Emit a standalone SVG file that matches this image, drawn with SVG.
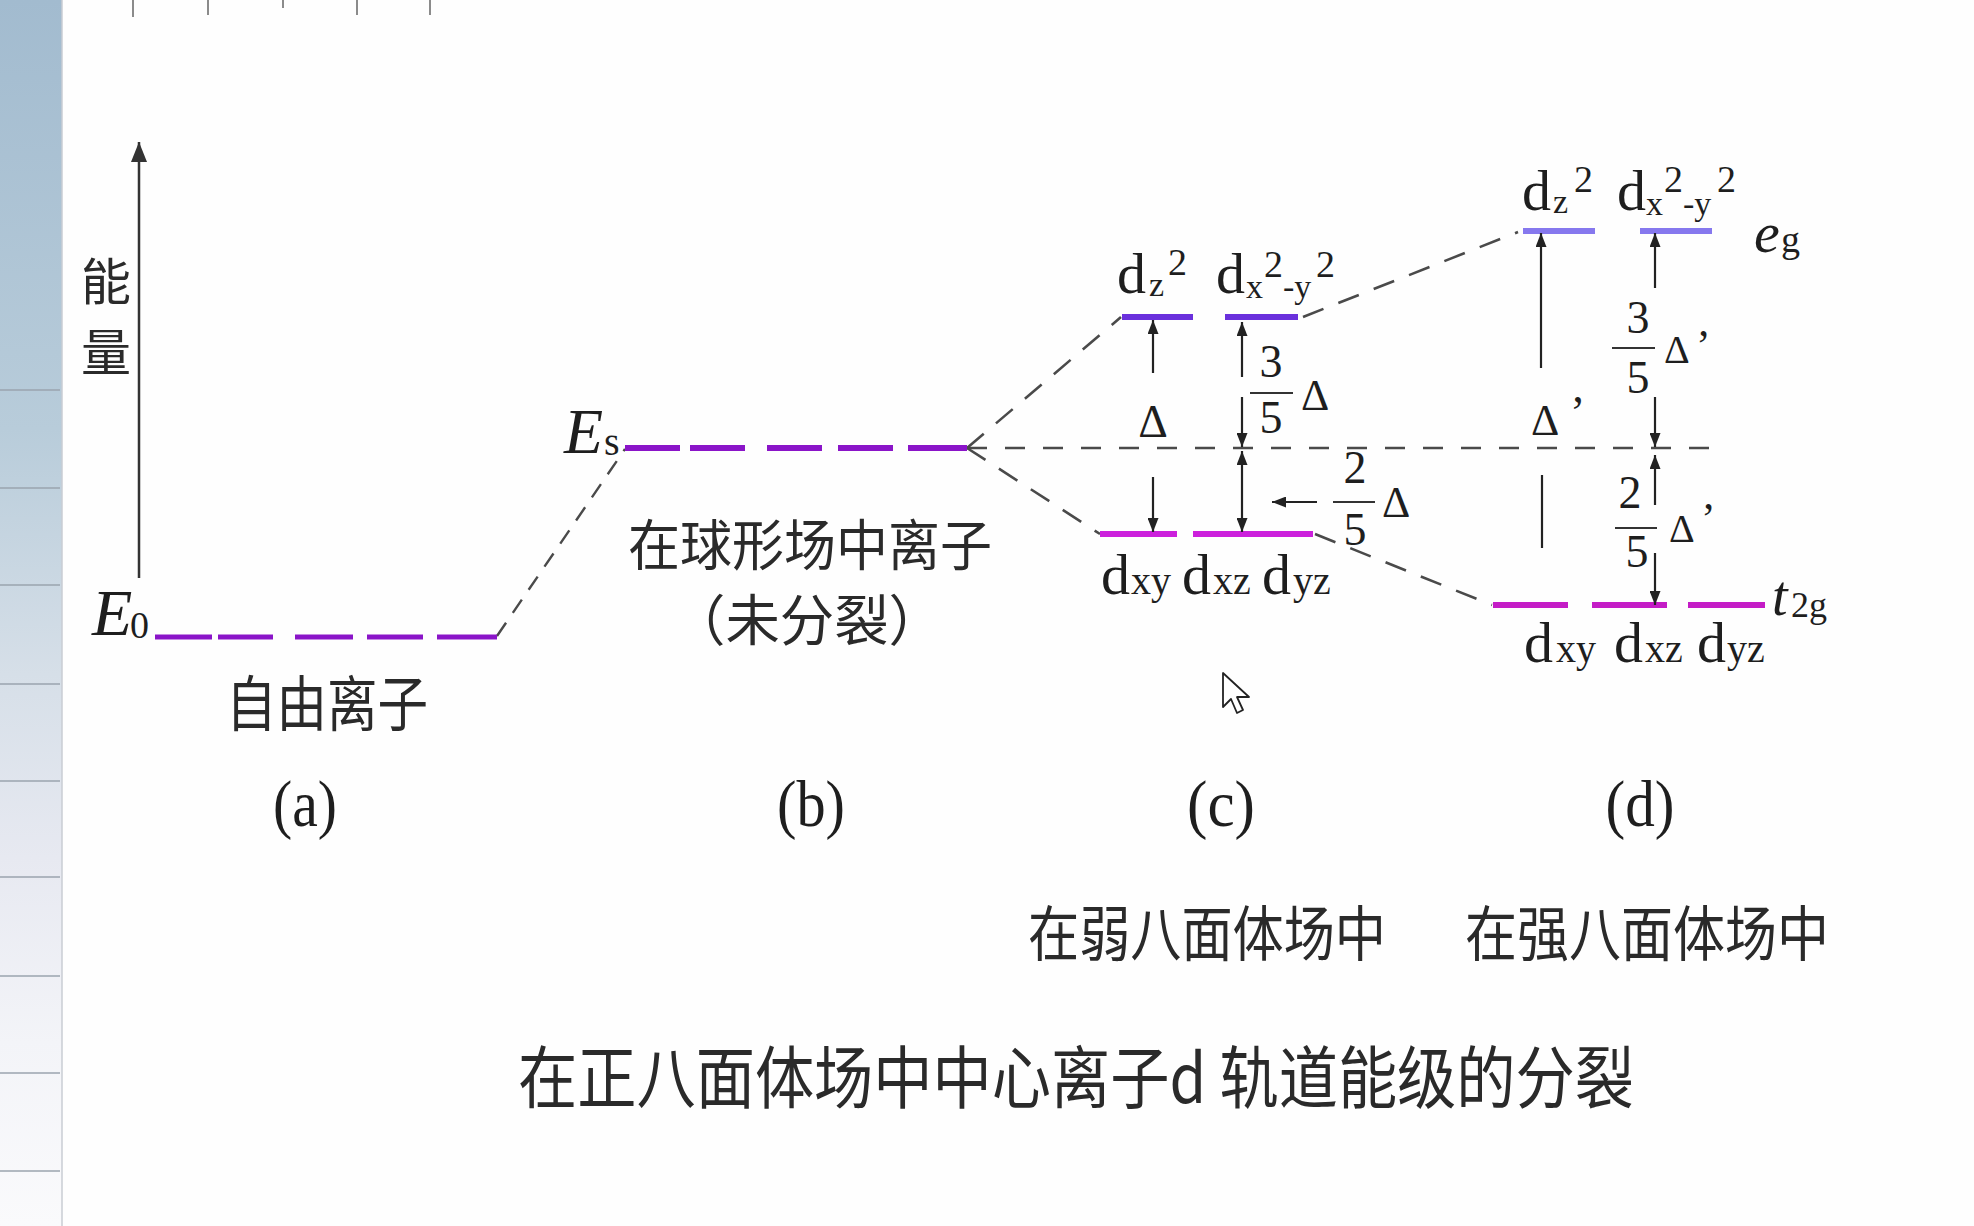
<svg xmlns="http://www.w3.org/2000/svg" width="1974" height="1226" viewBox="0 0 1974 1226">
<defs>
  <linearGradient id="panelGrad" x1="0" y1="0" x2="0" y2="1">
    <stop offset="0" stop-color="#a2bbcf"/>
    <stop offset="0.35" stop-color="#b8ccda"/>
    <stop offset="0.55" stop-color="#d6dfe8"/>
    <stop offset="0.7" stop-color="#e7e9f1"/>
    <stop offset="0.85" stop-color="#f3f4f8"/>
    <stop offset="1" stop-color="#fafafc"/>
  </linearGradient>
  <marker id="ah" markerUnits="userSpaceOnUse" markerWidth="14" markerHeight="11" refX="14" refY="5.5" orient="auto-start-reverse">
    <path d="M0,0 L14,5.5 L0,11 Z" fill="#222"/>
  </marker>
  <marker id="ahBig" markerUnits="userSpaceOnUse" markerWidth="20" markerHeight="16" refX="20" refY="8" orient="auto">
    <path d="M0,0 L20,8 L0,16 Z" fill="#333"/>
  </marker>
  <style>
    .lv { stroke-width:6; fill:none }
    .purple { stroke:#8a14c8 }
    .blue { stroke:#6a30dc }
    .mag { stroke:#cc20dc }
    .peri { stroke:#8678ee }
    .mag2 { stroke:#c41cc6 }
    .dash { stroke:#4a4a4a; stroke-width:2.6; fill:none; stroke-dasharray:22 16 }
    .arr { stroke:#222; stroke-width:2.2; fill:none }
    .serif { font-family:"Liberation Serif","Times New Roman",serif; fill:#1e1e1e }
    .it { font-style:italic }
    .cjk { font-family:"Noto Sans CJK SC","Noto Sans",sans-serif; fill:#2a2a2a }
    .bar { stroke:#333; stroke-width:2 }
    .grid { stroke:#9aa4ae; stroke-width:1.5 }
    .tick { stroke:#666; stroke-width:1.5 }
  </style>
</defs>

<rect x="0" y="0" width="1974" height="1226" fill="#fefefe"/>

<g id="side-panel">
  <rect x="0" y="0" width="62" height="1226" fill="url(#panelGrad)"/>
  <line x1="62" y1="0" x2="62" y2="1226" stroke="#c9cdd3" stroke-width="1.5"/>
  <path class="grid" d="M0,390 H60 M0,488 H60 M0,585 H60 M0,684 H60 M0,781 H60 M0,877 H60 M0,976 H60 M0,1073 H60 M0,1171 H60"/>
</g>

<g id="ruler-ticks">
  <path class="tick" d="M133,0 V17 M208,0 V15 M283,0 V8 M357,0 V15 M430,0 V15"/>
</g>

<g id="energy-axis">
  <line x1="139" y1="578" x2="139" y2="142" stroke="#333" stroke-width="2.5" marker-end="url(#ahBig)"/>
  <text class="cjk" font-size="50" x="106" y="300" text-anchor="middle">能</text>
  <text class="cjk" font-size="50" x="106" y="371" text-anchor="middle">量</text>
</g>

<g id="connectors">
  <path class="dash" style="stroke-dasharray:16 12;stroke-width:2.4" d="M497,636 L625,449"/>
  <path class="dash" d="M967,448 L1121,317"/>
  <path class="dash" style="stroke-dasharray:20 18" d="M967,448 L1718,448"/>
  <path class="dash" d="M967,448 L1100,534"/>
  <path class="dash" d="M1303,317 L1518,232"/>
  <path class="dash" d="M1315,534 L1492,605"/>
</g>

<g id="level-a-free-ion">
  <path class="lv purple" style="stroke-width:5" d="M155,637 H212 M218,637 H273 M295,637 H353 M367,637 H423 M437,637 H497"/>
  <text class="serif it" font-size="66" x="92" y="635">E</text>
  <text class="serif" font-size="38" x="130" y="638">0</text>
  <text class="cjk" font-size="60" x="226" y="726" textLength="202" lengthAdjust="spacingAndGlyphs">自由离子</text>
  <text class="serif" font-size="66" x="305" y="826" text-anchor="middle" textLength="64" lengthAdjust="spacingAndGlyphs">(a)</text>
</g>

<g id="level-b-spherical">
  <path class="lv purple" d="M625,448 H680 M690,448 H745 M767,448 H822 M838,448 H893 M908,448 H967"/>
  <text class="serif it" font-size="64" x="564" y="453">E</text>
  <text class="serif" font-size="40" x="604" y="455" fill="#5a6450">s</text>
  <text class="cjk" font-size="55" x="628" y="565" textLength="364" lengthAdjust="spacingAndGlyphs">在球形场中离子</text>
  <text class="cjk" font-size="55" x="671" y="640" textLength="272" lengthAdjust="spacingAndGlyphs">（未分裂）</text>
  <text class="serif" font-size="66" x="811" y="826" text-anchor="middle" textLength="68" lengthAdjust="spacingAndGlyphs">(b)</text>
</g>

<g id="level-c-weak">
  <path class="lv blue" d="M1122,317 H1193 M1225,317 H1298"/>
  <path class="lv mag" d="M1100,534 H1177 M1193,534 H1313"/>
  <text class="serif" font-size="58" x="1117" y="293">d</text>
  <text class="serif" font-size="34" x="1149" y="296">z</text>
  <text class="serif" font-size="38" x="1168" y="275">2</text>
  <text class="serif" font-size="58" x="1216" y="293">d</text>
  <text class="serif" font-size="34" x="1246" y="298">x</text>
  <text class="serif" font-size="38" x="1264" y="277">2</text>
  <text class="serif" font-size="34" x="1283" y="298">-y</text>
  <text class="serif" font-size="38" x="1316" y="277">2</text>
  <text class="serif" font-size="58" x="1101" y="594">d</text>
  <text class="serif" font-size="40" x="1131" y="594">xy</text>
  <text class="serif" font-size="58" x="1182" y="594">d</text>
  <text class="serif" font-size="40" x="1213" y="594">xz</text>
  <text class="serif" font-size="58" x="1262" y="594">d</text>
  <text class="serif" font-size="40" x="1293" y="594">yz</text>
  <text class="serif" font-size="66" x="1221" y="826" text-anchor="middle" textLength="68" lengthAdjust="spacingAndGlyphs">(c)</text>
  <text class="cjk" font-size="60" x="1028" y="956" textLength="358" lengthAdjust="spacingAndGlyphs">在弱八面体场中</text>
</g>

<g id="arrows-c">
  <line class="arr" x1="1153" y1="373" x2="1153" y2="320" marker-end="url(#ah)"/>
  <line class="arr" x1="1153" y1="477" x2="1153" y2="532" marker-end="url(#ah)"/>
  <text class="serif" font-size="46" x="1153" y="437" text-anchor="middle">Δ</text>
  <line class="arr" x1="1242" y1="377" x2="1242" y2="322" marker-end="url(#ah)"/>
  <line class="arr" x1="1242" y1="397" x2="1242" y2="447" marker-end="url(#ah)"/>
  <line class="arr" x1="1242" y1="451" x2="1242" y2="532" marker-start="url(#ah)" marker-end="url(#ah)"/>
  <line class="arr" x1="1317" y1="502" x2="1272" y2="502" marker-end="url(#ah)"/>
  <text class="serif" font-size="46" x="1271" y="377" text-anchor="middle">3</text>
  <line class="bar" x1="1250" y1="393" x2="1293" y2="393"/>
  <text class="serif" font-size="46" x="1271" y="433" text-anchor="middle">5</text>
  <text class="serif" font-size="44" x="1301" y="410">Δ</text>
  <text class="serif" font-size="46" x="1355" y="483" text-anchor="middle">2</text>
  <line class="bar" x1="1333" y1="502" x2="1375" y2="502"/>
  <text class="serif" font-size="46" x="1355" y="545" text-anchor="middle">5</text>
  <text class="serif" font-size="44" x="1382" y="517">Δ</text>
</g>

<g id="level-d-strong">
  <path class="lv peri" d="M1523,231 H1595 M1640,231 H1712"/>
  <path class="lv mag2" d="M1493,605 H1568 M1592,605 H1667 M1688,605 H1765"/>
  <text class="serif" font-size="58" x="1522" y="210">d</text>
  <text class="serif" font-size="34" x="1553" y="213">z</text>
  <text class="serif" font-size="38" x="1574" y="192">2</text>
  <text class="serif" font-size="58" x="1617" y="210">d</text>
  <text class="serif" font-size="34" x="1646" y="215">x</text>
  <text class="serif" font-size="38" x="1664" y="192">2</text>
  <text class="serif" font-size="34" x="1683" y="215">-y</text>
  <text class="serif" font-size="38" x="1717" y="192">2</text>
  <text class="serif it" font-size="58" x="1754" y="252">e</text>
  <text class="serif" font-size="38" x="1781" y="252">g</text>
  <text class="serif" font-size="58" x="1524" y="662">d</text>
  <text class="serif" font-size="40" x="1556" y="662">xy</text>
  <text class="serif" font-size="58" x="1614" y="662">d</text>
  <text class="serif" font-size="40" x="1645" y="662">xz</text>
  <text class="serif" font-size="58" x="1697" y="662">d</text>
  <text class="serif" font-size="40" x="1727" y="662">yz</text>
  <text class="serif it" font-size="56" x="1772" y="615">t</text>
  <text class="serif" font-size="36" x="1791" y="617">2g</text>
  <text class="serif" font-size="66" x="1640" y="826" text-anchor="middle" textLength="69" lengthAdjust="spacingAndGlyphs">(d)</text>
  <text class="cjk" font-size="60" x="1465" y="956" textLength="364" lengthAdjust="spacingAndGlyphs">在强八面体场中</text>
</g>

<g id="arrows-d">
  <line class="arr" x1="1541" y1="368" x2="1541" y2="233" marker-end="url(#ah)"/>
  <line class="arr" x1="1542" y1="475" x2="1542" y2="548"/>
  <text class="serif" font-size="44" x="1531" y="435">Δ<tspan x="1570" y="428" font-size="46">’</tspan></text>
  <line class="arr" x1="1655" y1="288" x2="1655" y2="233" marker-end="url(#ah)"/>
  <line class="arr" x1="1655" y1="397" x2="1655" y2="447" marker-end="url(#ah)"/>
  <line class="arr" x1="1655" y1="505" x2="1655" y2="455" marker-end="url(#ah)"/>
  <line class="arr" x1="1655" y1="553" x2="1655" y2="605" marker-end="url(#ah)"/>
  <text class="serif" font-size="46" x="1638" y="333" text-anchor="middle">3</text>
  <line class="bar" x1="1612" y1="348" x2="1655" y2="348"/>
  <text class="serif" font-size="46" x="1638" y="393" text-anchor="middle">5</text>
  <text class="serif" font-size="40" x="1664" y="363">Δ<tspan x="1696" y="360" font-size="44">’</tspan></text>
  <text class="serif" font-size="46" x="1630" y="508" text-anchor="middle">2</text>
  <line class="bar" x1="1615" y1="528" x2="1657" y2="528"/>
  <text class="serif" font-size="46" x="1637" y="567" text-anchor="middle">5</text>
  <text class="serif" font-size="40" x="1669" y="542">Δ<tspan x="1701" y="533" font-size="44">’</tspan></text>
</g>

<g id="caption">
  <text class="cjk" font-size="68" x="518" y="1103" textLength="1116" lengthAdjust="spacingAndGlyphs">在正八面体场中中心离子d 轨道能级的分裂</text>
</g>

<g id="mouse-cursor">
  <polygon points="1223,673 1223,707 1231,699 1237,713 1243,710 1237,697 1249,697" fill="#ffffff" stroke="#222" stroke-width="1.8" stroke-linejoin="round"/>
</g>
</svg>
